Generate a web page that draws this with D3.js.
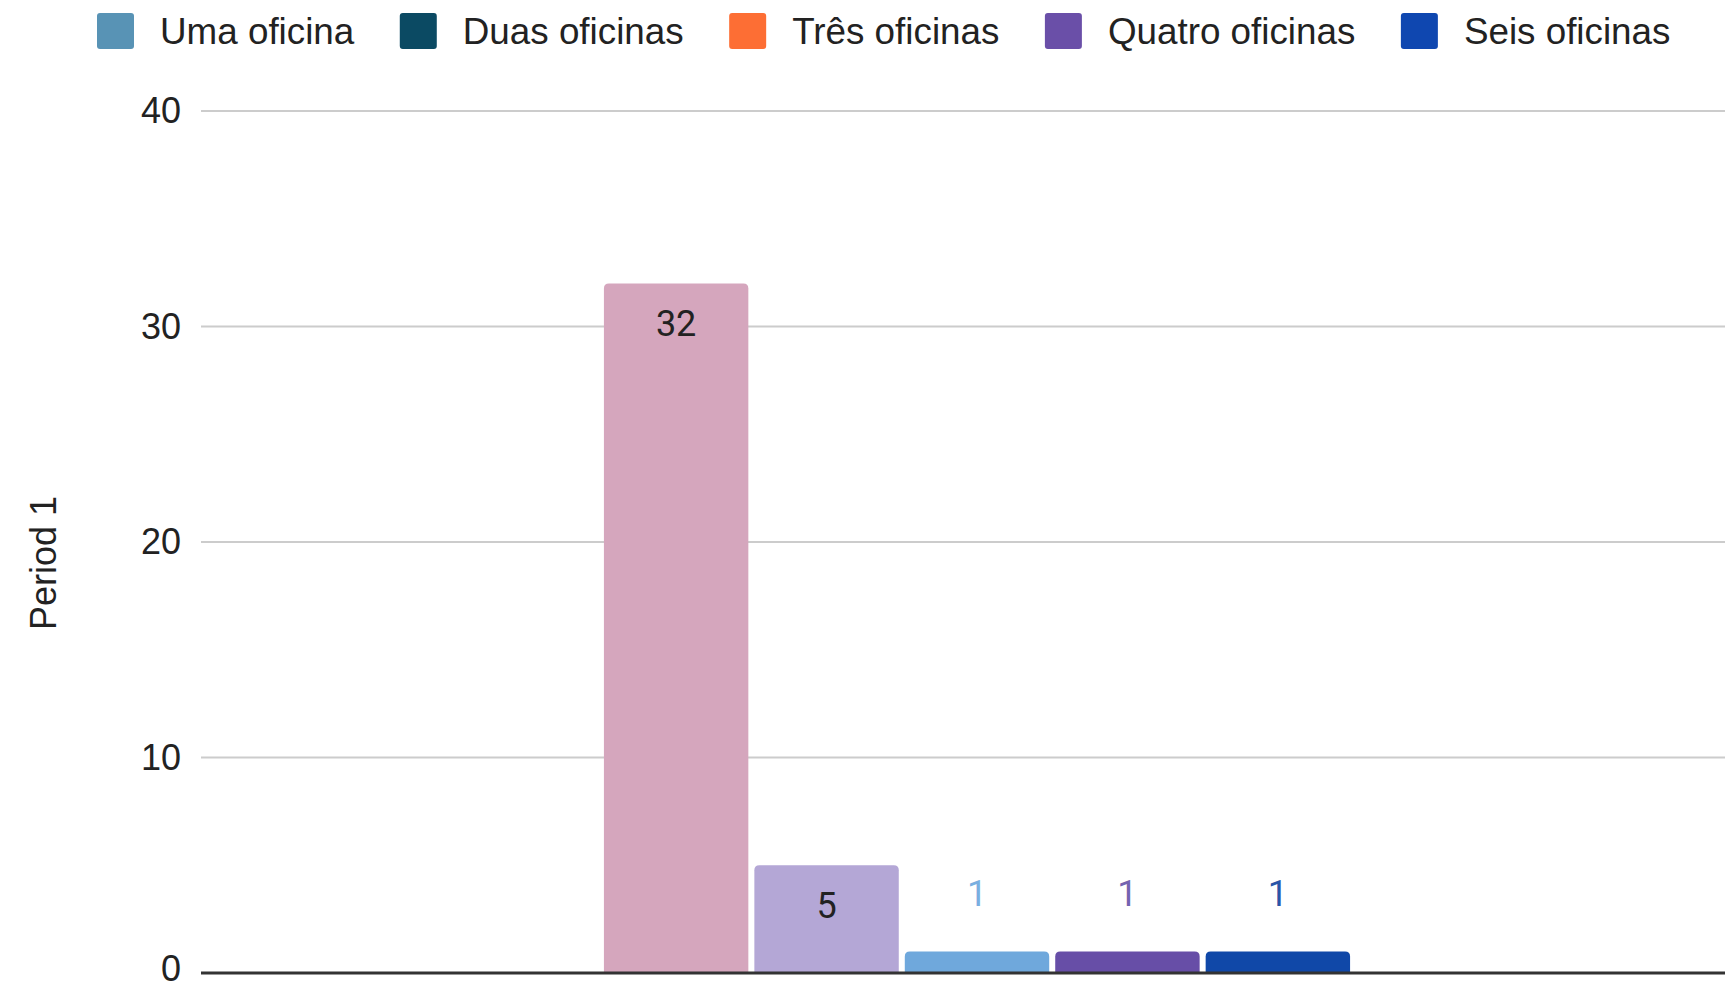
<!DOCTYPE html>
<html>
<head>
<meta charset="utf-8">
<script src="https://cdn.jsdelivr.net/npm/d3@7"></script>
<style>
  body { margin: 0; background: #fff; }
  svg { display: block; }
</style>
</head>
<body>
<div id="chart"></div>
<script>
// data
var categories = ["Period 1"];
var seriesNames = ["Uma oficina", "Duas oficinas", "Três oficinas", "Quatro oficinas", "Seis oficinas"];
var seriesValues = [32, 5, 1, 1, 1];
var barColors = ["#d5a6bd", "#b4a7d6", "#6fa8dc", "#674ea7", "#1048a8"];
var labelColors = ["#222", "#222", "#7aaee0", "#7463b0", "#2a55a8"];
var legendColors = ["#5893b5", "#0b4a63", "#fd6e34", "#6a4fa8", "#0f47b0"];
var yTicks = [0, 10, 20, 30, 40];

var svgWidth = 1725;
var svgHeight = 988;

var margin = { top: 111, right: -28, bottom: 15, left: 201 };
var width = svgWidth - margin.left - margin.right;
var height = svgHeight - margin.top - margin.bottom;

var svg = d3.select("#chart")
  .append("svg")
  .attr("width", svgWidth)
  .attr("height", svgHeight);

var chartGroup = svg.append("g")
  .attr("transform", `translate(${margin.left}, ${margin.top})`);

// scales
var x0 = d3.scaleBand()
  .domain(categories)
  .range([0, width])
  .paddingInner(0)
  .paddingOuter(0.54);

var x1 = d3.scaleBand()
  .domain(seriesNames)
  .range([0, x0.bandwidth()])
  .paddingInner(0.04);

var yScale = d3.scaleLinear()
  .domain([0, 40])
  .range([height, 0]);

// gridlines
chartGroup.selectAll(".grid")
  .data(yTicks.filter(d => d !== 0))
  .enter()
  .append("line")
  .attr("x1", 0)
  .attr("x2", width)
  .attr("y1", d => yScale(d))
  .attr("y2", d => yScale(d))
  .attr("stroke", "#cccccc")
  .attr("stroke-width", 2);

// y axis
var leftAxis = d3.axisLeft(yScale).tickValues(yTicks).tickSize(0).tickPadding(20);
var yAxis = chartGroup.append("g").call(leftAxis);
yAxis.select(".domain").remove();
yAxis.selectAll("text")
  .attr("font-family", "Liberation Sans, Arial, sans-serif")
  .attr("font-size", "36px")
  .attr("fill", "#222");
// keep the 0 label inside the picture
yAxis.selectAll(".tick text").filter(d => d === 0).attr("dy", "0.2em");

// bars with rounded top corners
function barPath(x, y, w, h, r) {
  r = Math.min(r, h, w / 2);
  return `M${x},${y + h}V${y + r}Q${x},${y} ${x + r},${y}H${x + w - r}Q${x + w},${y} ${x + w},${y + r}V${y + h}Z`;
}

var rows = seriesNames.map((s, i) => ({ series: s, value: seriesValues[i], color: barColors[i], label: labelColors[i] }));

var group = chartGroup.append("g")
  .attr("transform", `translate(${x0(categories[0])}, 0)`);

group.selectAll("path")
  .data(rows)
  .enter()
  .append("path")
  .attr("d", d => barPath(x1(d.series), yScale(d.value), x1.bandwidth(), height - yScale(d.value), 5))
  .attr("fill", d => d.color);

// value labels: inside tall bars, above short ones
group.selectAll(".val")
  .data(rows)
  .enter()
  .append("text")
  .attr("x", d => x1(d.series) + x1.bandwidth() / 2)
  .attr("y", d => (height - yScale(d.value)) > 80 ? yScale(d.value) + 53 : yScale(d.value) - 45)
  .attr("text-anchor", "middle")
  .attr("font-family", "Roboto, sans-serif")
  .attr("font-size", "36px")
  .attr("fill", d => d.label)
  .text(d => d.value);

// baseline
chartGroup.append("line")
  .attr("x1", 0)
  .attr("x2", width)
  .attr("y1", yScale(0))
  .attr("y2", yScale(0))
  .attr("stroke", "#333")
  .attr("stroke-width", 3);

// y axis title
svg.append("text")
  .attr("transform", `translate(56, 563) rotate(-90)`)
  .attr("text-anchor", "middle")
  .attr("font-family", "Liberation Sans, Arial, sans-serif")
  .attr("font-size", "36px")
  .attr("fill", "#222")
  .text(categories[0]);

// legend
var legend = svg.append("g").attr("transform", "translate(97, 13)");
var lx = 0;
seriesNames.forEach(function(name, i) {
  var item = legend.append("g").attr("transform", `translate(${lx}, 0)`);
  item.append("rect")
    .attr("width", 37)
    .attr("height", 36)
    .attr("rx", 3)
    .attr("fill", legendColors[i]);
  var t = item.append("text")
    .attr("x", 63)
    .attr("y", 31)
    .attr("font-family", "Liberation Sans, Arial, sans-serif")
    .attr("font-size", "36.8px")
    .attr("fill", "#222")
    .text(name);
  lx += 63 + t.node().getComputedTextLength() + 45.5;
});
</script>
</body>
</html>
